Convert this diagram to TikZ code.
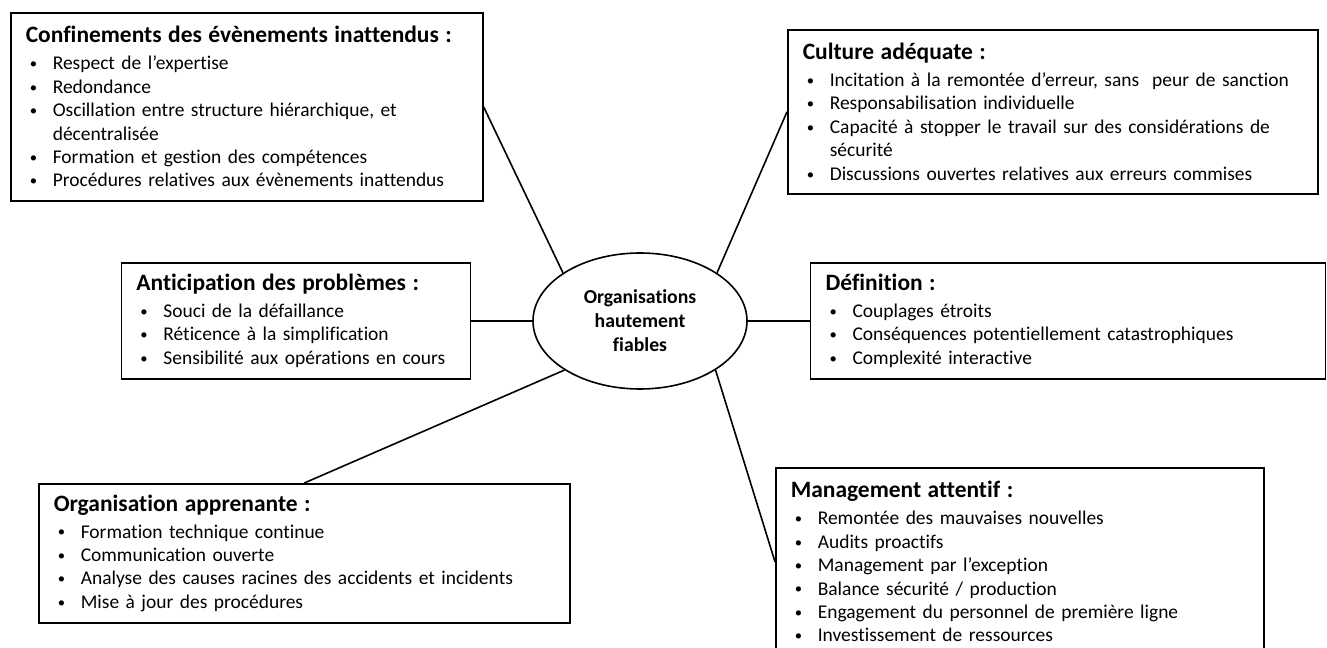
\documentclass[tikz,border=0pt]{standalone}
\usepackage{fontspec}
\setmainfont{Carlito}[Ligatures=NoCommon]
\usetikzlibrary{positioning, shapes.geometric}

\newcommand{\titre}[1]{\noindent{\fontsize{17.6pt}{18pt}\selectfont\bfseries #1}\par\vspace{2.4pt}}
\newcommand{\puce}{\par\noindent\hangindent=20.25pt\hangafter=1%
  \makebox[20.25pt][l]{\hspace{3pt}\raisebox{0.8pt}{\fontsize{11pt}{11pt}\selectfont\textbullet}}}

\begin{document}
\begin{tikzpicture}[
  x=0.75pt, y=-0.75pt,
  boite/.style={draw, line width=1.2pt, align=left, inner xsep=11.25pt,
                inner ysep=0pt, font=\fontsize{14.6pt}{17.6pt}\selectfont},
  centre/.style={draw, ellipse, line width=1.2pt, inner sep=0pt,
                 minimum width=160.5pt, minimum height=102pt, align=center,
                 font=\fontsize{14.8pt}{18pt}\selectfont\bfseries},
  lien/.style={line width=1.2pt}
]
  \useasboundingbox (0,0) rectangle (1327,648);
  \clip (0,0) rectangle (1327,648);

  % Centre
  \node[centre] (cen) at (640,321) {Organisations\\hautement\\fiables};

  % Left column
  \node[boite, anchor=north west, text width=331.5pt, minimum height=141pt]
    (conf) at (10,12) {%
    \titre{Confinements des évènements inattendus :}
    \puce Respect de l’expertise
    \puce Redondance
    \puce Oscillation entre structure hiérarchique, et\newline décentralisée
    \puce Formation et gestion des compétences
    \puce Procédures relatives aux évènements inattendus};
  \node[boite, left=45.75pt of cen, text width=239.25pt, minimum height=87pt]
    (ant) {%
    \titre{Anticipation des problèmes :}
    \puce Souci de la défaillance
    \puce Réticence à la simplification
    \puce Sensibilité aux opérations en cours};
  \node[boite, anchor=north west, text width=375.75pt, minimum height=104.25pt]
    (org) at (38,483) {%
    \titre{Organisation apprenante :}
    \puce Formation technique continue
    \puce Communication ouverte
    \puce Analyse des causes racines des accidents et incidents
    \puce Mise à jour des procédures};

  % Right column
  \node[boite, anchor=north west, text width=375pt, minimum height=123pt]
    (cult) at (787,29) {%
    \titre{Culture adéquate :}
    \puce Incitation à la remontée d’erreur, sans\ \ peur de sanction
    \puce Responsabilisation individuelle
    \puce Capacité à stopper le travail sur des considérations de\newline sécurité
    \puce Discussions ouvertes relatives aux erreurs commises};
  \node[boite, right=46.5pt of cen, text width=363.75pt, minimum height=87pt]
    (def) {%
    \titre{Définition :}
    \puce Couplages étroits
    \puce Conséquences potentiellement catastrophiques
    \puce Complexité interactive};
  \node[boite, anchor=north west, text width=343.5pt, minimum height=141pt]
    (mgmt) at (775,467) {%
    \titre{Management attentif :}
    \puce Remontée des mauvaises nouvelles
    \puce Audits proactifs
    \puce Management par l’exception
    \puce Balance sécurité / production
    \puce Engagement du personnel de première ligne
    \puce Investissement de ressources};

  % Links
  \draw[lien] (conf.east) -- (cen.148);
  \draw[lien] (ant.east) -- (cen.west);
  \draw[lien] (org.north) -- (cen.213);
  \draw[lien] (cult.west) -- (cen.32);
  \draw[lien] (def.west) -- (cen.east);
  \draw[lien] (mgmt.west) -- (cen.327);
\end{tikzpicture}
\end{document}
